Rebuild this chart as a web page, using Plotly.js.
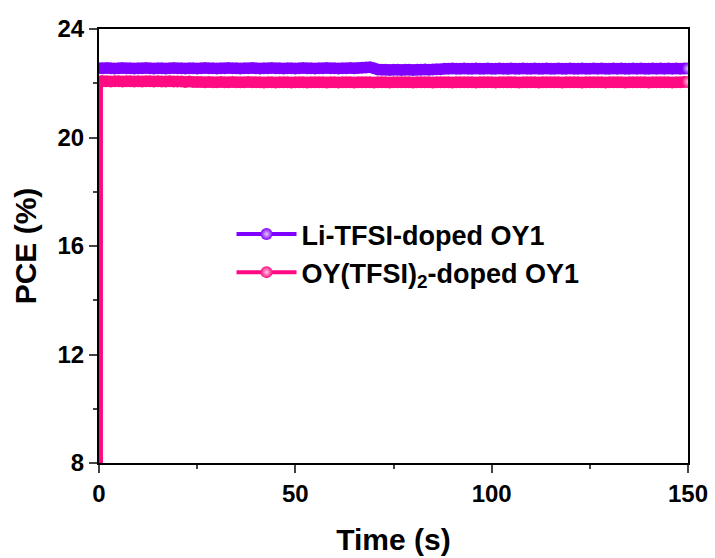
<!DOCTYPE html>
<html>
<head>
<meta charset="utf-8">
<script src="https://cdn.plot.ly/plotly-3.0.1.min.js"></script>
<style>html,body{margin:0;padding:0;background:#fff;}#chart{width:715px;height:558px;}</style>
</head>
<body>
<div id="chart"></div>
<script>
// Time (s) for Li-TFSI-doped OY1
var timeLi = [0,1,2,3,4,5,6,7,8,9,10,11,12,13,14,15,16,17,18,19,20,21,22,23,24,25,26,27,28,29,30,31,32,33,34,35,36,37,38,39,40,41,42,43,44,45,46,47,48,49,50,51,52,53,54,55,56,57,58,59,60,61,62,63,64,65,66,67,68,69,70,71,72,73,74,75,76,77,78,79,80,81,82,83,84,85,86,87,88,89,90,91,92,93,94,95,96,97,98,99,100,101,102,103,104,105,106,107,108,109,110,111,112,113,114,115,116,117,118,119,120,121,122,123,124,125,126,127,128,129,130,131,132,133,134,135,136,137,138,139,140,141,142,143,144,145,146,147,148,149,150];
var pceLi = [22.55,22.55,22.56,22.55,22.54,22.55,22.56,22.55,22.55,22.54,
  22.55,22.55,22.56,22.55,22.54,22.55,22.55,22.54,22.55,22.56,
  22.55,22.55,22.54,22.55,22.55,22.54,22.55,22.56,22.55,22.55,
  22.54,22.55,22.55,22.56,22.55,22.55,22.54,22.55,22.55,22.56,
  22.55,22.54,22.55,22.55,22.56,22.55,22.55,22.54,22.55,22.55,
  22.54,22.55,22.56,22.55,22.55,22.54,22.55,22.55,22.56,22.55,
  22.55,22.54,22.55,22.55,22.56,22.55,22.56,22.57,22.58,22.59,
  22.55,22.51,22.50,22.50,22.49,22.50,22.50,22.49,22.50,22.50,
  22.49,22.50,22.50,22.51,22.50,22.51,22.52,22.52,22.53,22.53,
  22.54,22.53,22.53,22.54,22.53,22.53,22.54,22.53,22.53,22.54,
  22.53,22.53,22.54,22.53,22.53,22.54,22.53,22.53,22.54,22.53,
  22.53,22.54,22.53,22.53,22.54,22.53,22.53,22.54,22.53,22.53,
  22.54,22.53,22.53,22.54,22.53,22.53,22.54,22.53,22.54,22.53,
  22.53,22.54,22.53,22.54,22.53,22.53,22.54,22.53,22.54,22.53,
  22.53,22.54,22.53,22.54,22.53,22.54,22.53,22.54,22.53,22.54,22.54];
// Time (s) for OY(TFSI)2-doped OY1
var timeOY = [0.5,0.5,1,2,3,4,5,6,7,8,9,10,11,12,13,14,15,16,17,18,19,20,21,22,23,24,25,26,27,28,29,30,31,32,33,34,35,36,37,38,39,40,41,42,43,44,45,46,47,48,49,50,51,52,53,54,55,56,57,58,59,60,61,62,63,64,65,66,67,68,69,70,71,72,73,74,75,76,77,78,79,80,81,82,83,84,85,86,87,88,89,90,91,92,93,94,95,96,97,98,99,100,101,102,103,104,105,106,107,108,109,110,111,112,113,114,115,116,117,118,119,120,121,122,123,124,125,126,127,128,129,130,131,132,133,134,135,136,137,138,139,140,141,142,143,144,145,146,147,148,149,150];
var pceOY = [0,22.07,
  22.07,22.07,22.06,22.07,22.07,22.06,22.07,22.07,22.06,22.07,
  22.06,22.07,22.07,22.06,22.07,22.06,22.06,22.07,22.06,22.06,
  22.06,22.05,22.06,22.05,22.05,22.05,22.04,22.05,22.04,22.04,
  22.05,22.04,22.04,22.05,22.04,22.04,22.04,22.05,22.04,22.04,
  22.04,22.03,22.04,22.04,22.03,22.04,22.04,22.04,22.03,22.04,
  22.04,22.04,22.03,22.04,22.04,22.04,22.04,22.03,22.04,22.04,
  22.03,22.04,22.04,22.04,22.03,22.04,22.04,22.04,22.04,22.03,
  22.04,22.04,22.04,22.03,22.04,22.04,22.04,22.04,22.04,22.03,
  22.04,22.04,22.04,22.04,22.03,22.04,22.04,22.04,22.04,22.03,
  22.04,22.04,22.04,22.04,22.04,22.03,22.04,22.04,22.04,22.04,
  22.03,22.04,22.04,22.04,22.04,22.04,22.03,22.04,22.04,22.04,
  22.04,22.03,22.04,22.04,22.04,22.04,22.04,22.03,22.04,22.04,
  22.04,22.04,22.03,22.04,22.04,22.04,22.04,22.04,22.03,22.04,
  22.04,22.04,22.04,22.03,22.04,22.04,22.04,22.04,22.04,22.03,
  22.04,22.04,22.04,22.04,22.04,22.03,22.04,22.04,22.05,22.05];
var xTicks = [0,50,100,150];
var yTicks = [8,12,16,20,24];
var seriesNames = ['Li-TFSI-doped OY1','OY(TFSI)<sub>2</sub>-doped OY1'];

var purple = '#8000ff', pink = '#ff0a82';
// highlight (ball look) on first point (used by legend) and on last point
function grad(n, base, hi){ var a=[]; for(var i=0;i<n;i++){a.push((i===n-1||i===0)?hi:base);} return a; }

var traces = [
  {x: timeLi, y: pceLi, name: seriesNames[0], type:'scatter', mode:'lines+markers',
   line:{color:purple, width:4}, marker:{color:purple, size:12, gradient:{type:'radial', color:grad(timeLi.length, purple, '#e0c8ff')}}},
  {x: timeOY, y: pceOY, name: seriesNames[1], type:'scatter', mode:'lines+markers',
   line:{color:pink, width:4}, marker:{color:pink, size:12, gradient:{type:'radial', color:grad(timeOY.length, pink, '#ffc8e2')}}}
];

var fontFam = '"Liberation Sans", Arial, sans-serif';
var layout = {
  width:715, height:558,
  margin:{l:99, r:27, t:29, b:95},
  paper_bgcolor:'#fff', plot_bgcolor:'#fff',
  font:{family:fontFam, color:'#000'},
  showlegend:true,
  legend:{x:0.225, y:0.583, xanchor:'left', yanchor:'top', bgcolor:'rgba(0,0,0,0)', itemwidth:60,
          font:{family:fontFam, size:27, color:'#000', weight:'bold'}},
  xaxis:{range:[0,150], tickvals:xTicks, ticktext:xTicks.map(String), ticks:'outside', ticklen:8, tickwidth:2,
         showline:true, linewidth:2, linecolor:'#000', mirror:true, showgrid:false, zeroline:false,
         minor:{ticks:'outside', ticklen:4, tickwidth:2, dtick:25, tick0:0, showgrid:false},
         tickfont:{family:fontFam, size:24, weight:'bold'},
         title:{text:'Time (s)', font:{family:fontFam, size:30, weight:'bold'}, standoff:23}},
  yaxis:{range:[8,24], tickvals:yTicks, ticktext:yTicks.map(String), ticks:'outside', ticklen:8, tickwidth:2,
         showline:true, linewidth:2, linecolor:'#000', mirror:true, showgrid:false, zeroline:false,
         minor:{ticks:'outside', ticklen:4, tickwidth:2, dtick:2, tick0:8, showgrid:false},
         tickfont:{family:fontFam, size:24, weight:'bold'},
         title:{text:'PCE (%)', font:{family:fontFam, size:30, weight:'bold'}, standoff:12}}
};
Plotly.newPlot('chart', traces, layout, {displayModeBar:false, staticPlot:true});
</script>
</body>
</html>
